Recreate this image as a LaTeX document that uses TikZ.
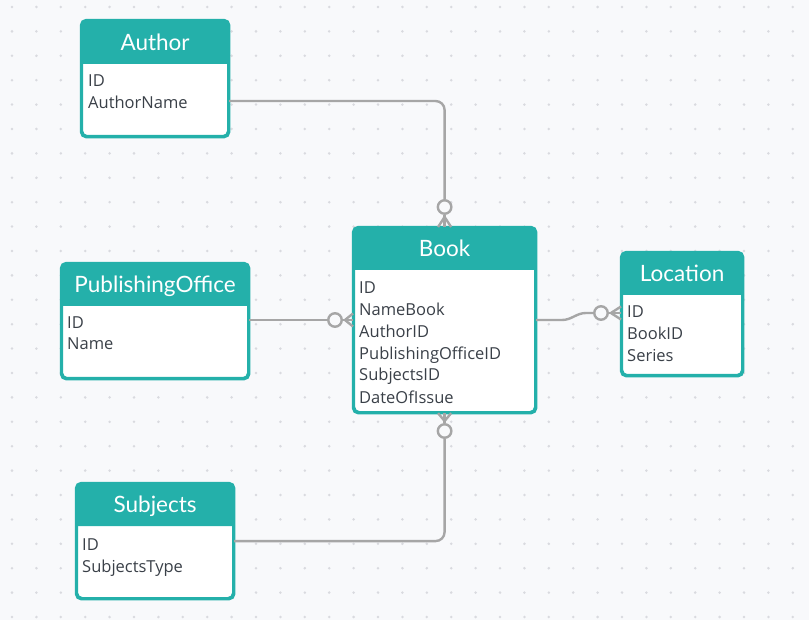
\documentclass[tikz,border=0pt]{standalone}
\usepackage{fontspec}
\setmainfont{Lato}
\newfontfamily\bodyfont{Open Sans}
\definecolor{bg}{HTML}{F8F9FB}
\definecolor{dotc}{HTML}{D9DADF}
\definecolor{hdr}{HTML}{24B0AA}
\definecolor{conn}{HTML}{A6A6A6}
\definecolor{txt}{HTML}{3A4048}
\tikzset{
  entbox/.style={draw=hdr, line width=2.2pt, fill=white, rounded corners=5pt, inner sep=0pt, anchor=north west},
  hdrtext/.style={text=white, font=\fontsize{22.5}{26}\selectfont, inner sep=0pt, anchor=base},
  fieldtext/.style={text=txt, font=\bodyfont\fontsize{16.5}{19}\selectfont, anchor=base west, inner sep=0pt},
  conn/.style={draw=conn, line width=2.4pt},
  circ/.style={circle, draw=conn, fill=bg, line width=2.4pt, minimum size=13.5pt, inner sep=0pt},
}
% node, header bottom y, title baseline y, title
\newcommand{\hdrfill}[4]{%
  \fill[hdr] (#1.west |- 0,#2) [rounded corners=5pt] -- (#1.north west) -- (#1.north east) [sharp corners] -- (#1.east |- 0,#2) -- cycle;
  \draw[draw=hdr, line width=2.2pt, rounded corners=5pt] (#1.south west) rectangle (#1.north east);
  \node[hdrtext] (#1T) at (#1.north |- 0,#3) {#4};
}
\usetikzlibrary{calc}
\begin{document}
\begin{tikzpicture}[x=1pt,y=-1pt]
\fill[bg] (0,0) rectangle (809,620);
\useasboundingbox (0,0) rectangle (809,620);
\foreach \i in {0,...,33} {
  \foreach \j in {0,...,25} {
    \fill[dotc] ({12+24.4*\i},{7+24.4*\j}) circle (1.4pt);
  }
}
% entities
\node[entbox, minimum width=146pt, minimum height=115pt] (author) at (81,20) {};
\hdrfill{author}{64}{50.5}{Author}
\node[fieldtext] (authorF1) at (88,87) {ID};
\node[fieldtext] (authorF2) at (88,109) {AuthorName};

\node[entbox, minimum width=181pt, minimum height=184pt] (book) at (353,227) {};
\hdrfill{book}{270}{256.5}{Book}
\node[fieldtext] (bookF1) at (359,294) {ID};
\node[fieldtext] (bookF2) at (359,316) {NameBook};
\node[fieldtext] (bookF3) at (359,338) {AuthorID};
\node[fieldtext] (bookF4) at (359,359.5) {PublishingOfficeID};
\node[fieldtext] (bookF5) at (359,381) {SubjectsID};
\node[fieldtext] (bookF6) at (359,403) {DateOfIssue};

\node[entbox, minimum width=186pt, minimum height=114pt] (pub) at (61,263) {};
\hdrfill{pub}{306}{292.5}{PublishingOffice}
\node[fieldtext] (pubF1) at (67,329) {ID};
\node[fieldtext] (pubF2) at (67,350) {Name};

\node[entbox, minimum width=120pt, minimum height=122pt] (loc) at (621,252) {};
\hdrfill{loc}{295}{281.5}{Location}
\node[fieldtext] (locF1) at (627,318) {ID};
\node[fieldtext] (locF2) at (627,340) {BookID};
\node[fieldtext] (locF3) at (627,362) {Series};

\node[entbox, minimum width=156pt, minimum height=114pt] (subj) at (76,483) {};
\hdrfill{subj}{526}{512.5}{Subjects}
\node[fieldtext] (subjF1) at (82,550) {ID};
\node[fieldtext] (subjF2) at (82,572) {SubjectsType};

% connectors
\coordinate (aOut) at (author.east |- 0,101);
\node[circ] (c1) at (book.north |- 0,207) {};
\draw[conn, rounded corners=9pt] (aOut) -- (book.north |- aOut) -- (c1.north);
\draw[conn] (c1.south) -- (book.north);
\draw[conn] ($(c1.south)+(0,2)$) -- ($(book.north)+(-6.5,0)$);
\draw[conn] ($(c1.south)+(0,2)$) -- ($(book.north)+(6.5,0)$);

\node[circ] (c2) at (335,320) {};
\draw[conn] (pub.east |- 0,320) -- (c2.west);
\draw[conn] (c2.east) -- (book.west |- c2);
\draw[conn] ($(c2.east)+(2,0)$) -- ($(book.west |- c2)+(0,-6.5)$);
\draw[conn] ($(c2.east)+(2,0)$) -- ($(book.west |- c2)+(0,6.5)$);

\node[circ] (c3) at (601,313) {};
\draw[conn] (book.east |- 0,320) -- (562,320) to[out=0,in=180] (586,313) -- (c3.west);
\draw[conn] (c3.east) -- (loc.west |- c3);
\draw[conn] ($(c3.east)+(2,0)$) -- ($(loc.west |- c3)+(0,-6.5)$);
\draw[conn] ($(c3.east)+(2,0)$) -- ($(loc.west |- c3)+(0,6.5)$);

\node[circ] (c4) at (book.south |- 0,431) {};
\draw[conn, rounded corners=9pt] (subj.east) -- (book.south |- subj.east) -- (c4.south);
\draw[conn] (c4.north) -- (book.south);
\draw[conn] ($(c4.north)+(0,-2)$) -- ($(book.south)+(-6.5,0)$);
\draw[conn] ($(c4.north)+(0,-2)$) -- ($(book.south)+(6.5,0)$);
\end{tikzpicture}
\end{document}
